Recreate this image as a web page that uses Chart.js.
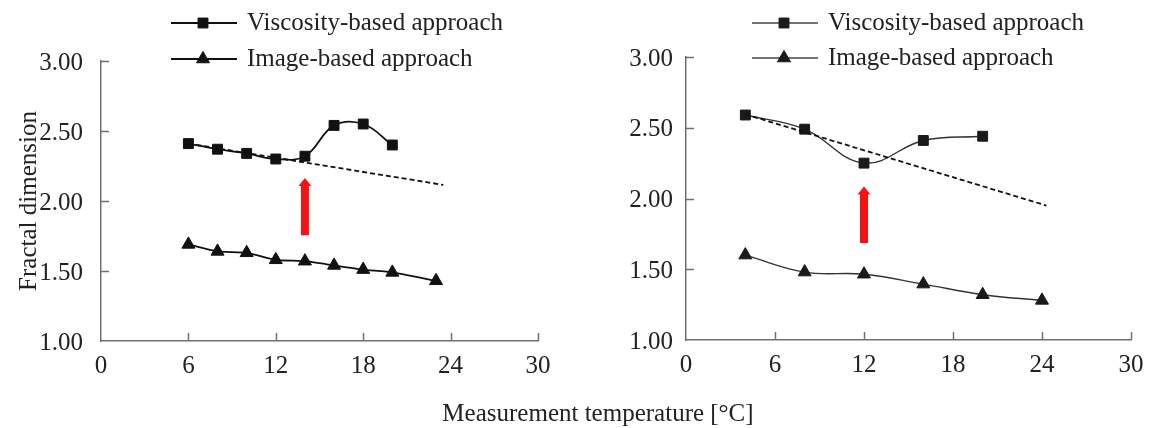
<!DOCTYPE html>
<html><head><meta charset="utf-8">
<script src="https://cdn.jsdelivr.net/npm/chart.js@4.4.1/dist/chart.umd.min.js"></script>
<style>
html,body{margin:0;padding:0;background:#fff;width:1151px;height:428px;overflow:hidden;}
#wrap{position:relative;width:1151px;height:428px;}
#c1{position:absolute;left:0;top:0;}
#c2{position:absolute;left:580px;top:0;}
#xt{position:absolute;left:598px;top:400px;transform:translateX(-50%);font:25px/25px "Liberation Serif";color:#222;white-space:nowrap;}
</style></head><body>
<div id="wrap">
<canvas id="c1" width="580" height="428"></canvas>
<canvas id="c2" width="571" height="428"></canvas>
<div id="xt">Measurement temperature [°C]</div>
</div>
<script>
// ---- data ----
const leftTemps = [6, 8, 10, 12, 14, 16, 18, 20];
const leftViscosity = [2.41, 2.37, 2.34, 2.30, 2.32, 2.54, 2.55, 2.40];
const leftImageTemps = [6, 8, 10, 12, 14, 16, 18, 20, 23];
const leftImage = [1.69, 1.64, 1.63, 1.58, 1.57, 1.54, 1.51, 1.49, 1.43];
const leftTrendTemps = [6, 23.5];
const leftTrend = [2.41, 2.115];
const leftArrow = [14, 1.755, 2.165];   // temperature, from, to

const rightTemps = [4, 8, 12, 16, 20];
const rightViscosity = [2.59, 2.49, 2.25, 2.41, 2.44];
const rightImageTemps = [4, 8, 12, 16, 20, 24];
const rightImage = [1.60, 1.48, 1.465, 1.395, 1.32, 1.28];
const rightTrendTemps = [4, 24.3];
const rightTrend = [2.595, 1.95];
const rightArrow = [12, 1.685, 2.085];

const xTicks = [0, 6, 12, 18, 24, 30];
const yTicks = [1.00, 1.50, 2.00, 2.50, 3.00];
const seriesNames = ['Viscosity-based approach', 'Image-based approach'];
const yTitle = 'Fractal dimension';

const FONT = 'Liberation Serif';
const pts = (xs, ys) => xs.map((t, i) => ({x: t, y: ys[i]}));

// ---- plugins ----
const inwardTicks = {
  id: 'inwardTicks',
  afterDraw(chart, args, o) {
    const {ctx, chartArea: a, scales: {x, y}} = chart;
    ctx.save();
    ctx.strokeStyle = o.color; ctx.lineWidth = o.width;
    ctx.beginPath();
    xTicks.forEach(v => {
      if (v === x.min) return;
      const px = Math.round(x.getPixelForValue(v)) + 0.5;
      ctx.moveTo(px, a.bottom); ctx.lineTo(px, a.bottom - o.len);
    });
    yTicks.forEach(v => {
      if (v === y.min) return;
      const py = Math.round(y.getPixelForValue(v)) + 0.5;
      ctx.moveTo(a.left, py); ctx.lineTo(a.left + o.len, py);
    });
    ctx.stroke();
    ctx.restore();
  }
};

const arrowPlugin = {
  id: 'arrow',
  afterDatasetsDraw(chart, args, o) {
    const {ctx, scales: {x, y}} = chart;
    const [xv, v0, v1] = o.data;
    const px = x.getPixelForValue(xv), pb = y.getPixelForValue(v0), pt = y.getPixelForValue(v1);
    const sw = 8, hw = 13, hh = 8;
    ctx.save();
    ctx.fillStyle = o.color;
    ctx.beginPath();
    ctx.moveTo(px, pt);
    ctx.lineTo(px + hw / 2, pt + hh);
    ctx.lineTo(px + sw / 2, pt + hh);
    ctx.lineTo(px + sw / 2, pb);
    ctx.lineTo(px - sw / 2, pb);
    ctx.lineTo(px - sw / 2, pt + hh);
    ctx.lineTo(px - hw / 2, pt + hh);
    ctx.closePath();
    ctx.fill();
    ctx.restore();
  }
};

const legendPlugin = {
  id: 'customLegend',
  afterDraw(chart, args, o) {
    const {ctx} = chart;
    ctx.save();
    chart.data.datasets.forEach(ds => {
      const idx = seriesNames.indexOf(ds.label);
      if (idx < 0) return;
      const yy = o.rows[idx];
      ctx.strokeStyle = o.lineColor; ctx.lineWidth = o.lineWidth;
      ctx.beginPath(); ctx.moveTo(o.x1, yy); ctx.lineTo(o.x2, yy); ctx.stroke();
      ctx.fillStyle = ds.pointBackgroundColor; ctx.strokeStyle = ds.pointBorderColor; ctx.lineWidth = 1;
      Chart.helpers.drawPoint(ctx, {pointStyle: ds.pointStyle, radius: ds.pointRadius, rotation: 0, borderWidth: 1}, o.xm, yy);
      ctx.fillStyle = '#222';
      ctx.font = '25px "' + FONT + '"';
      ctx.textBaseline = 'middle'; ctx.textAlign = 'left';
      ctx.fillText(ds.label, o.xt, yy);
    });
    ctx.restore();
  }
};

function makeChart(id, c) {
  return new Chart(document.getElementById(id), {
    type: 'line',
    data: {datasets: [
      {label: 'trend', data: pts(c.trendX, c.trendY), borderColor: '#111', borderWidth: 1.8,
       borderDash: [5, 3], pointRadius: 0, tension: 0, fill: false},
      {label: seriesNames[0], data: pts(c.vx, c.vy), borderColor: c.lineColor, borderWidth: c.lineWidth,
       pointStyle: 'rect', pointRadius: 7, pointBackgroundColor: c.markColor, pointBorderColor: c.markColor,
       pointBorderWidth: 1, tension: c.vTension, fill: false},
      {label: seriesNames[1], data: pts(c.ix, c.iy), borderColor: c.lineColor, borderWidth: c.lineWidth,
       pointStyle: 'triangle', pointRadius: 7.5, pointBackgroundColor: c.markColor, pointBorderColor: c.markColor,
       pointBorderWidth: 1, tension: c.iTension, fill: false}
    ]},
    options: {
      responsive: false, animation: false, events: [],
      layout: {padding: {left: 0, top: c.top, right: c.right, bottom: c.bottom}},
      plugins: {
        legend: {display: false}, tooltip: {enabled: false},
        customLegend: c.legend,
        arrow: {data: c.arrow, color: '#f21414'},
        inwardTicks: {color: '#707070', width: 1.5, len: 8}
      },
      scales: {
        x: {
          type: 'linear', min: 0, max: 30,
          afterBuildTicks: s => { s.ticks = xTicks.map(v => ({value: v})); },
          afterFit: s => { s.height = 40; },
          grid: {display: false},
          border: {display: true, color: '#707070', width: 1.5},
          ticks: {padding: 2, color: '#222', font: {family: FONT, size: 25}, maxRotation: 0, autoSkip: false,
                  callback: v => String(v)}
        },
        y: {
          type: 'linear', min: 1, max: 3,
          afterBuildTicks: s => { s.ticks = yTicks.map(v => ({value: v})); },
          afterFit: s => { s.width = c.yw; },
          grid: {display: false},
          border: {display: true, color: '#707070', width: 1.5},
          ticks: {padding: c.ypad, labelOffset: 2, color: '#222', font: {family: FONT, size: 25}, autoSkip: false,
                  callback: v => Number(v).toFixed(2)},
          title: c.title ? {display: true, text: yTitle, color: '#222', font: {family: FONT, size: 25},
                            padding: {top: 14, bottom: 0}} : {display: false}
        }
      }
    },
    plugins: [inwardTicks, arrowPlugin, legendPlugin]
  });
}

makeChart('c1', {
  vx: leftTemps, vy: leftViscosity, ix: leftImageTemps, iy: leftImage,
  trendX: leftTrendTemps, trendY: leftTrend, arrow: leftArrow,
  lineColor: '#111', lineWidth: 1.8, markColor: '#111', vTension: 0.4, iTension: 0.15,
  top: 61, right: 42, bottom: 47, yw: 101, ypad: 10, title: true,
  legend: {x1: 171, x2: 237, xm: 203, xt: 247, rows: [23, 59], lineColor: '#111', lineWidth: 1.8}
});
makeChart('c2', {
  vx: rightTemps, vy: rightViscosity, ix: rightImageTemps, iy: rightImage,
  trendX: rightTrendTemps, trendY: rightTrend, arrow: rightArrow,
  lineColor: '#333', lineWidth: 1.4, markColor: '#1a1a1a', vTension: 0.4, iTension: 0.4,
  top: 57, right: 20, bottom: 48, yw: 106, ypad: 5, title: false,
  legend: {x1: 172, x2: 238, xm: 204, xt: 248, rows: [23, 58], lineColor: '#444', lineWidth: 1.4}
});
</script>
</body></html>
